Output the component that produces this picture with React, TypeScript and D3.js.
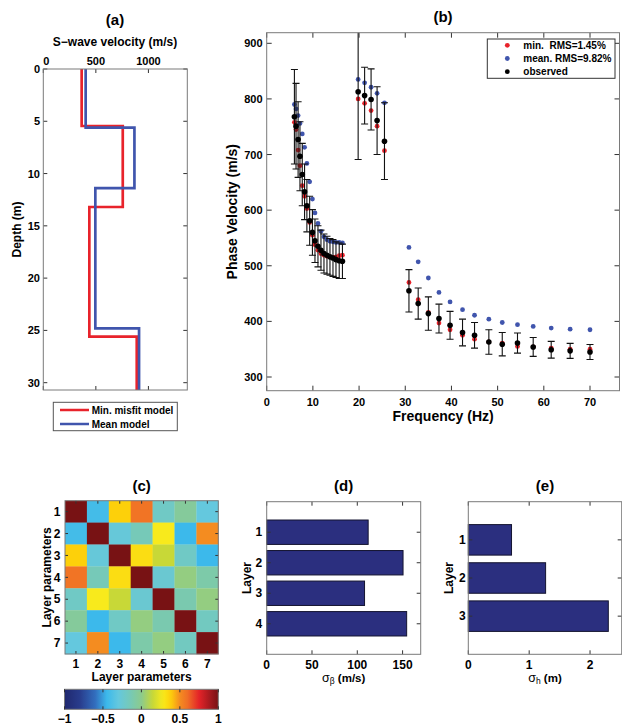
import React from "react";
import * as d3 from "d3";

const FONT = "'Liberation Sans', Arial, Helvetica, sans-serif";
const BOX = "#7a7a7a";
const TICK = "#333";
const RED = "#e8232b";
const BLUE = "#4055ad";
const BAR = "#2b2f7f";

// (a) shear-wave velocity profiles: velocity of each layer and depth of its top
const minMisfitVs = [365, 756, 438, 889];
const minMisfitTops = [0, 5.45, 13.2, 25.6];
const meanVs = [403, 867, 495, 911];
const meanTops = [0, 5.6, 11.4, 24.8];
const profileMaxDepth = 30.7;
const profileMaxVs = 1370;
const vsTicks = [0, 500, 1000];
const depthTicks = [0, 5, 10, 15, 20, 25, 30];

// (b) dispersion curve
const freq = [6.0, 6.35, 6.8, 7.2, 7.7, 8.2, 8.7, 9.3, 9.9, 10.45, 11.1, 11.75, 12.4, 13.05, 13.7, 14.35, 15.0, 15.7, 16.4,
  19.8, 21.2, 22.6, 23.9, 25.5,
  30.8, 32.8, 35.0, 37.3, 39.7, 42.4, 45.0, 48.1, 51.0, 54.3, 57.7, 61.6, 65.7, 70.0];
const observed = [768, 751, 727, 697, 664, 633, 608, 581, 560, 545, 535, 528, 522, 519, 516, 514, 511, 509, 508,
  813, 806, 799, 761, 724,
  455, 432, 414, 405, 393, 380, 375, 363, 359, 361, 354, 349, 347, 345];
const errHalf = [85, 77, 68, 62, 56, 50, 47, 44, 41, 39, 37, 36, 35, 34, 33, 33, 32, 32, 31,
  122, 51, 55, 61, 69,
  38, 28, 30, 26, 25, 24, 23, 22, 21, 18, 17, 15, 13.5, 13.5];
const minModel = [758, 745, 708, 680, 644, 625, 603, 578, 555, 538, 528, 522, 519, 517, 516, 515, 516, 518, 519,
  800, 792, 779, 751, 707,
  470, 439, 416, 397, 385, 375, 368, 363, 361, 355, 354, 352, 350, 350];
const meanModel = [790, 782, 770, 756, 737, 713, 684, 651, 620, 595, 576, 562, 552, 547, 544, 543, 542, 542, 541,
  835, 829, 821, 810, 793,
  533, 507, 478, 452, 435, 421, 411, 404, 398, 394, 391, 388, 386, 385];
const freqTicks = [0, 10, 20, 30, 40, 50, 60, 70];
const velTicks = [300, 400, 500, 600, 700, 800, 900];
const legendB = ["min.  RMS=1.45%", "mean. RMS=9.82%", "observed"];

// (c) correlation matrix of layer parameters
const paramLabels = ["1", "2", "3", "4", "5", "6", "7"];
const correlation = [
  [1, -0.42, 0.38, 0.58, -0.2, -0.05, -0.3],
  [-0.42, 1, -0.28, -0.15, 0.28, -0.45, 0.5],
  [0.38, -0.28, 1, 0.33, 0.15, -0.2, -0.45],
  [0.58, -0.15, 0.33, 1, -0.25, 0.02, -0.1],
  [-0.2, 0.28, 0.15, -0.25, 1, -0.12, 0.02],
  [-0.05, -0.45, -0.2, 0.02, -0.12, 1, -0.18],
  [-0.3, 0.5, -0.45, -0.1, 0.02, -0.18, 1],
];
const colorbarTicks = [-1, -0.5, 0, 0.5, 1];
const cmapStops = [-1, -0.8, -0.6, -0.45, -0.3, -0.15, 0, 0.15, 0.28, 0.38, 0.5, 0.6, 0.75, 0.9, 1];
const cmapColors = ["#20286e", "#283c8c", "#326ebe", "#3cb9eb", "#64c8de", "#76c9b8", "#8ccb8c", "#c8d837",
  "#f8ea1c", "#fdd00a", "#f48c20", "#f06e26", "#e42328", "#a0191e", "#781214"];

// (d) and (e) standard deviations per layer
const vsLayers = ["1", "2", "3", "4"];
const sigmaVs = [112, 150.5, 108, 154.5];
const sigmaVsTicks = [0, 50, 100, 150];
const hLayers = ["1", "2", "3"];
const sigmaH = [0.71, 1.27, 2.3];
const sigmaHTicks = [0, 1, 2];

const colorScale = d3.scaleLinear<string>().domain(cmapStops).range(cmapColors).interpolate(d3.interpolateRgb);

function stepPath(vs: number[], tops: number[], maxDepth: number) {
  const pts: [number, number][] = [];
  vs.forEach((v, i) => {
    const bottom = i + 1 < tops.length ? tops[i + 1] : maxDepth;
    pts.push([v, tops[i]]);
    pts.push([v, bottom]);
  });
  return pts;
}

function ProfilePanel() {
  const L = 43.3, R = 187.3, T = 69, B = 390;
  const x = d3.scaleLinear().domain([0, profileMaxVs]).range([L, R]);
  const y = d3.scaleLinear().domain([0, profileMaxDepth]).range([T, B]);
  const line = d3.line<[number, number]>().x(d => x(d[0])).y(d => y(d[1]));
  return (
    <g>
      <defs>
        <clipPath id="clipA"><rect x={L} y={T} width={R - L} height={B - T} /></clipPath>
      </defs>
      <text x={115} y={25} textAnchor="middle" fontSize={15} fontWeight="bold">(a)</text>
      <text x={115} y={46} textAnchor="middle" fontSize={12} fontWeight="bold">S−wave velocity (m/s)</text>
      <g clipPath="url(#clipA)">
        <path d={line(stepPath(minMisfitVs, minMisfitTops, profileMaxDepth)) || ""} fill="none" stroke={RED} strokeWidth={2.7} />
        <path d={line(stepPath(meanVs, meanTops, profileMaxDepth)) || ""} fill="none" stroke={BLUE} strokeWidth={2.7} />
      </g>
      {vsTicks.map(t => (
        <g key={t}>
          <line x1={x(t)} x2={x(t)} y1={T} y2={T + 4} stroke={TICK} />
          <line x1={x(t)} x2={x(t)} y1={B} y2={B - 4} stroke={TICK} />
          <text x={x(t) + (t === 0 ? 3 : 0)} y={T - 4} textAnchor="middle" fontSize={11} fontWeight="bold">{t}</text>
        </g>
      ))}
      {depthTicks.map(t => (
        <g key={t}>
          <line x1={L} x2={L + 4} y1={y(t)} y2={y(t)} stroke={TICK} />
          <line x1={R} x2={R - 4} y1={y(t)} y2={y(t)} stroke={TICK} />
          <text x={40} y={y(t) + 4} textAnchor="end" fontSize={11} fontWeight="bold">{t}</text>
        </g>
      ))}
      <rect x={L} y={T} width={R - L} height={B - T} fill="none" stroke={BOX} />
      <text transform={`translate(21,${(T + B) / 2}) rotate(-90)`} textAnchor="middle" fontSize={12} fontWeight="bold">Depth (m)</text>
      <rect x={53.3} y={402.3} width={124} height={28.4} fill="#fff" stroke="#555" />
      <line x1={60} x2={89} y1={410} y2={410} stroke={RED} strokeWidth={2.5} />
      <line x1={60} x2={89} y1={424} y2={424} stroke={BLUE} strokeWidth={2.5} />
      <text x={91.7} y={413.6} fontSize={10} fontWeight="bold">Min. misfit model</text>
      <text x={91.7} y={427.6} fontSize={10} fontWeight="bold">Mean model</text>
    </g>
  );
}

function DispersionPanel() {
  const L = 266.7, R = 619.5, T = 32.7, B = 390.7;
  const x = d3.scaleLinear().domain([0, 70]).range([L, 590]);
  const y = d3.scaleLinear().domain([300, 900]).range([377, 43.3]);
  const cap = 3.5;
  return (
    <g>
      <defs>
        <clipPath id="clipB"><rect x={L} y={T} width={R - L} height={B - T} /></clipPath>
      </defs>
      <text x={443} y={22} textAnchor="middle" fontSize={15} fontWeight="bold">(b)</text>
      <g clipPath="url(#clipB)">
        {freq.map((f, i) => <circle key={"r" + i} cx={x(f)} cy={y(minModel[i])} r={2.4} fill={RED} />)}
        {freq.map((f, i) => <circle key={"b" + i} cx={x(f)} cy={y(meanModel[i])} r={2.4} fill={BLUE} />)}
        {freq.map((f, i) => {
          const cx = x(f), y1 = y(observed[i] + errHalf[i]), y2 = y(observed[i] - errHalf[i]);
          return (
            <g key={"e" + i} stroke="#111" strokeWidth={1.1}>
              <line x1={cx} x2={cx} y1={y1} y2={y2} />
              <line x1={cx - cap} x2={cx + cap} y1={y1} y2={y1} />
              <line x1={cx - cap} x2={cx + cap} y1={y2} y2={y2} />
            </g>
          );
        })}
        {freq.map((f, i) => <circle key={"o" + i} cx={x(f)} cy={y(observed[i])} r={2.8} fill="#000" />)}
      </g>
      {freqTicks.map(t => (
        <g key={t}>
          <line x1={x(t)} x2={x(t)} y1={B} y2={B - 5} stroke={TICK} />
          <line x1={x(t)} x2={x(t)} y1={T} y2={T + 5} stroke={TICK} />
          <text x={x(t)} y={405.5} textAnchor="middle" fontSize={11} fontWeight="bold">{t}</text>
        </g>
      ))}
      {velTicks.map(t => (
        <g key={t}>
          <line x1={L} x2={L + 5} y1={y(t)} y2={y(t)} stroke={TICK} />
          <line x1={R} x2={R - 5} y1={y(t)} y2={y(t)} stroke={TICK} />
          <text x={262.5} y={y(t) + 4} textAnchor="end" fontSize={11} fontWeight="bold">{t}</text>
        </g>
      ))}
      <rect x={L} y={T} width={R - L} height={B - T} fill="none" stroke={BOX} />
      <text x={(L + R) / 2} y={420.5} textAnchor="middle" fontSize={14} fontWeight="bold">Frequency (Hz)</text>
      <text transform={`translate(237,${(T + B) / 2}) rotate(-90)`} textAnchor="middle" fontSize={14} fontWeight="bold">Phase Velocity (m/s)</text>
      <rect x={487.3} y={39} width={127.7} height={39.3} fill="#fff" stroke="#333" />
      {legendB.map((s, i) => {
        const cy = 45.3 + i * 13.2;
        return (
          <g key={s}>
            <circle cx={507.3} cy={cy} r={2.4} fill={[RED, BLUE, "#000"][i]} />
            <text x={523.3} y={cy + 3.6} fontSize={10} fontWeight="bold" style={{ whiteSpace: "pre" }}>{s}</text>
          </g>
        );
      })}
    </g>
  );
}

function CorrelationPanel() {
  const L = 65, R = 218.3, T = 500.7, B = 654;
  const band = d3.scaleBand().domain(paramLabels).range([L, R]);
  const bandY = d3.scaleBand().domain(paramLabels).range([T, B]);
  const cbL = 64.5, cbR = 218.3, cbT = 689.3, cbB = 709.3;
  const cb = d3.scaleLinear().domain([-1, 1]).range([cbL, cbR]);
  const gradStops = d3.range(0, 41).map(i => -1 + i * 0.05);
  return (
    <g>
      <defs>
        <linearGradient id="cbGrad" x1="0" x2="1" y1="0" y2="0">
          {gradStops.map(v => (
            <stop key={v} offset={`${((v + 1) / 2) * 100}%`} stopColor={colorScale(v)} />
          ))}
        </linearGradient>
      </defs>
      <text x={141.7} y={491} textAnchor="middle" fontSize={15} fontWeight="bold">(c)</text>
      {correlation.map((row, i) =>
        row.map((v, j) => (
          <rect key={`${i}-${j}`} x={band(paramLabels[j])!} y={bandY(paramLabels[i])!}
            width={band.bandwidth() + 0.3} height={bandY.bandwidth() + 0.3} fill={colorScale(v)} />
        ))
      )}
      {paramLabels.map(p => {
        const cx = band(p)! + band.bandwidth() / 2;
        const cy = bandY(p)! + bandY.bandwidth() / 2;
        return (
          <g key={p}>
            <line x1={cx} x2={cx} y1={B} y2={B - 3} stroke={TICK} />
            <line x1={cx} x2={cx} y1={T} y2={T + 3} stroke={TICK} />
            <line x1={L} x2={L + 3} y1={cy} y2={cy} stroke={TICK} />
            <line x1={R} x2={R - 3} y1={cy} y2={cy} stroke={TICK} />
            <text x={cx} y={668} textAnchor="middle" fontSize={12} fontWeight="bold">{p}</text>
            <text x={60.5} y={cy + 4.2} textAnchor="end" fontSize={12} fontWeight="bold">{p}</text>
          </g>
        );
      })}
      <rect x={L} y={T} width={R - L} height={B - T} fill="none" stroke={BOX} />
      <text x={(L + R) / 2} y={681} textAnchor="middle" fontSize={12} fontWeight="bold">Layer parameters</text>
      <text transform={`translate(51,${(T + B) / 2}) rotate(-90)`} textAnchor="middle" fontSize={12} fontWeight="bold">Layer parameters</text>
      <rect x={cbL} y={cbT} width={cbR - cbL} height={cbB - cbT} fill="url(#cbGrad)" stroke={BOX} />
      {colorbarTicks.map(t => (
        <g key={t}>
          <line x1={cb(t)} x2={cb(t)} y1={cbT} y2={cbT + 3} stroke={TICK} />
          <line x1={cb(t)} x2={cb(t)} y1={cbB} y2={cbB - 3} stroke={TICK} />
          <text x={cb(t)} y={723} textAnchor="middle" fontSize={12} fontWeight="bold">{t === 0 ? "0" : String(t).replace("-", "−")}</text>
        </g>
      ))}
    </g>
  );
}

function BarPanel(props: {
  title: string; L: number; R: number; layers: string[]; values: number[]; max: number; ticks: number[];
  labelX: number; tickRight: number; sub: string; unit: string;
}) {
  const { title, L, R, layers, values, max, ticks, labelX, tickRight, sub, unit } = props;
  const T = 501.7, B = 654.3;
  const x = d3.scaleLinear().domain([0, max]).range([L, R]);
  const y = d3.scaleLinear().domain([0, layers.length + 1]).range([T, B]);
  const cx = (L + R) / 2;
  return (
    <g>
      <text x={cx} y={491} textAnchor="middle" fontSize={15} fontWeight="bold">{title}</text>
      {layers.map((l, i) => (
        <rect key={l} x={x(0)} y={y(i + 1 - 0.4)} width={x(values[i]) - x(0)} height={y(0.8) - y(0)}
          fill={BAR} stroke="#141430" strokeWidth={1} />
      ))}
      {layers.map((l, i) => (
        <g key={l}>
          <line x1={L} x2={L + 4} y1={y(i + 1)} y2={y(i + 1)} stroke={TICK} />
          <line x1={R} x2={R - 4} y1={y(i + 1)} y2={y(i + 1)} stroke={TICK} />
          <text x={tickRight} y={y(i + 1) + 4.2} textAnchor="end" fontSize={12} fontWeight="bold">{l}</text>
        </g>
      ))}
      {ticks.map(t => (
        <g key={t}>
          <line x1={x(t)} x2={x(t)} y1={B} y2={B - 4} stroke={TICK} />
          <line x1={x(t)} x2={x(t)} y1={T} y2={T + 4} stroke={TICK} />
          <text x={x(t)} y={668.5} textAnchor="middle" fontSize={12} fontWeight="bold">{t}</text>
        </g>
      ))}
      <rect x={L} y={T} width={R - L} height={B - T} fill="none" stroke={BOX} />
      <text transform={`translate(${labelX},${(T + B) / 2}) rotate(-90)`} textAnchor="middle" fontSize={12} fontWeight="bold">Layer</text>
      <text x={cx} y={681.5} textAnchor="middle" fontSize={11.5}>
        <tspan fontSize={12.5}>σ</tspan>
        <tspan fontSize={8.5} dy={2.5}>{sub}</tspan>
        <tspan dy={-2.5} fontWeight="bold">{" " + unit}</tspan>
      </text>
    </g>
  );
}

export default function App() {
  return (
    <svg width={622} height={726} fontFamily={FONT}
      style={{ position: "absolute", left: 0, top: 0, background: "#fff" }}>
      <rect x={0} y={0} width={622} height={726} fill="#fff" />
      <ProfilePanel />
      <DispersionPanel />
      <CorrelationPanel />
      <BarPanel title="(d)" L={266.7} R={420.7} layers={vsLayers} values={sigmaVs} max={170}
        ticks={sigmaVsTicks} labelX={251} tickRight={262.3} sub="β" unit="(m/s)" />
      <BarPanel title="(e)" L={468.3} R={621.7} layers={hLayers} values={sigmaH} max={2.52}
        ticks={sigmaHTicks} labelX={452.5} tickRight={465.7} sub="h" unit="(m)" />
    </svg>
  );
}
